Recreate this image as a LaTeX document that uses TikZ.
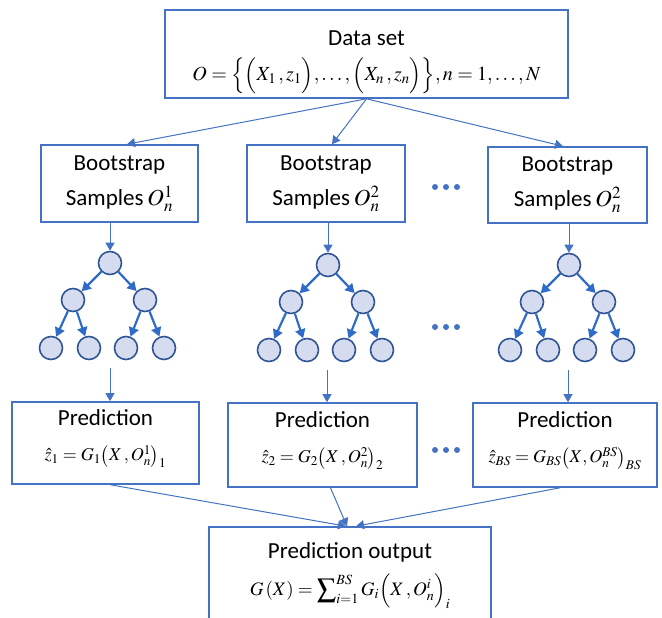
\documentclass[tikz,border=0pt]{standalone}
\usepackage{mathptmx}
\usepackage[no-math]{fontspec}
\setmainfont{Carlito}
\usetikzlibrary{arrows.meta}
\definecolor{boxblue}{HTML}{4472C4}
\definecolor{treeline}{HTML}{2F5597}
\definecolor{treefill}{HTML}{D6DCF0}
\definecolor{arrowblue}{HTML}{2F6BC8}
\newcommand\mytree[3]{%
  \node[tnode] (#1r) at (#2,#3) {};
  \node[tnode] (#1a) at ({#2-37},{#3+37}) {};
  \node[tnode] (#1b) at ({#2+35},{#3+37}) {};
  \node[tnode] (#1c) at ({#2-59},{#3+85}) {};
  \node[tnode] (#1d) at ({#2-21},{#3+85}) {};
  \node[tnode] (#1e) at ({#2+16},{#3+85}) {};
  \node[tnode] (#1f) at ({#2+54},{#3+85}) {};
  \draw[tarrow] (#1r) -- (#1a);
  \draw[tarrow] (#1r) -- (#1b);
  \draw[tarrow] (#1a) -- (#1c);
  \draw[tarrow] (#1a) -- (#1d);
  \draw[tarrow] (#1b) -- (#1e);
  \draw[tarrow] (#1b) -- (#1f);
}
\newcommand\mth[2]{{\fontsize{#1}{34}\selectfont #2}}
\begin{document}
\begin{tikzpicture}[x=1pt,y=-1pt,
  box/.style={draw=boxblue,line width=1.6pt,inner sep=0pt,align=center,
    font=\fontsize{23}{35}\selectfont},
  tnode/.style={circle,draw=treeline,fill=treefill,line width=1.6pt,minimum size=23pt,inner sep=0pt},
  tarrow/.style={draw=arrowblue,line width=2.2pt,-{Triangle[length=9pt,width=10pt]}},
  conn/.style={draw=boxblue,line width=1pt,-{Triangle[length=8pt,width=9pt]}},
  dotc/.style={fill=boxblue}]
\clip (0,0) rectangle (662,618);

% top box
\node[box,minimum width=403pt,minimum height=88pt] (top) at (366.5,54)
  {\rule{0pt}{31pt}Data set\\\mth{20}{$O=\Bigl\{\Bigl(X_1\,,z_1\Bigr),\ldots,\Bigl(X_n\,,z_n\Bigr)\Bigr\},n=1,\ldots,N$}};

% bootstrap boxes
\node[box,minimum width=157pt,minimum height=77pt] (boot1) at (119.5,183.5)
  {Bootstrap\\Samples\,$O_n^1$};
\node[box,minimum width=158pt,minimum height=77pt] (boot2) at (326,183.5)
  {Bootstrap\\Samples\,$O_n^2$};
\node[box,minimum width=159pt,minimum height=76pt] (boot3) at (567.5,185)
  {Bootstrap\\Samples\,$O_n^2$};

\draw[conn] (top.south) -- ([xshift=7.5pt]boot1.north);
\draw[conn] (top.south) -- ([xshift=6pt]boot2.north);
\draw[conn] (top.south) -- ([xshift=-4.5pt]boot3.north);

% dots
\foreach \dx in {435,446,457} {\fill[dotc] (\dx,187) circle (3pt);}
\foreach \dx in {435,446,457} {\fill[dotc] (\dx,327) circle (3pt);}
\foreach \dx in {435,446,457} {\fill[dotc] (\dx,450) circle (3pt);}

% trees
\mytree{t1}{110}{263}
\mytree{t2}{328}{265}
\mytree{t3}{569}{265}

\draw[conn] (t1r.north |- boot1.south) -- (t1r.north);
\draw[conn] (t2r.north |- boot2.south) -- (t2r.north);
\draw[conn] (t3r.north |- boot3.south) -- (t3r.north);

% prediction boxes
\node[box,minimum width=187pt,minimum height=82pt] (p1) at (105.5,443)
  {Prediction\\\mth{18}{$\hat z_1=G_1\bigl(X\,,O_n^1\bigr)_1$}\rule[-15pt]{0pt}{1pt}};
\node[box,minimum width=189pt,minimum height=84pt] (p2) at (322.5,445)
  {Prediction\\\mth{18}{$\hat z_2=G_2\bigl(X\,,O_n^2\bigr)_2$}\rule[-15pt]{0pt}{1pt}};
\node[box,minimum width=184pt,minimum height=84pt] (p3) at (565,445)
  {Prediction\\\mth{18}{$\hat z_{BS}=G_{BS}\bigl(X,O_n^{BS}\bigr)_{BS}$}\rule[-15pt]{0pt}{1pt}};

\coordinate (e1) at (110,368);
\coordinate (e2) at (327,370);
\coordinate (e3) at (568,370);
\draw[conn] (e1) -- (e1 |- p1.north);
\draw[conn] (e2) -- (e2 |- p2.north);
\draw[conn] (e3) -- (e3 |- p3.north);

% output box
\node[box,minimum width=282pt,minimum height=92pt] (out) at (350,573)
  {\rule{0pt}{22pt}Prediction output\\[2pt]\mth{19}{$G\,(X)=\displaystyle\sum\nolimits_{i=1}^{BS}G_i\Bigl(X\,,O_n^i\Bigr)_i$}};

\draw[conn] ([xshift=5pt]p1.south) -- ([xshift=-4pt]out.north);
\draw[conn] ([xshift=8pt]p2.south) -- ([xshift=-3pt]out.north);
\draw[conn] ([xshift=-5pt]p3.south) -- ([xshift=6pt]out.north);
\end{tikzpicture}
\end{document}
